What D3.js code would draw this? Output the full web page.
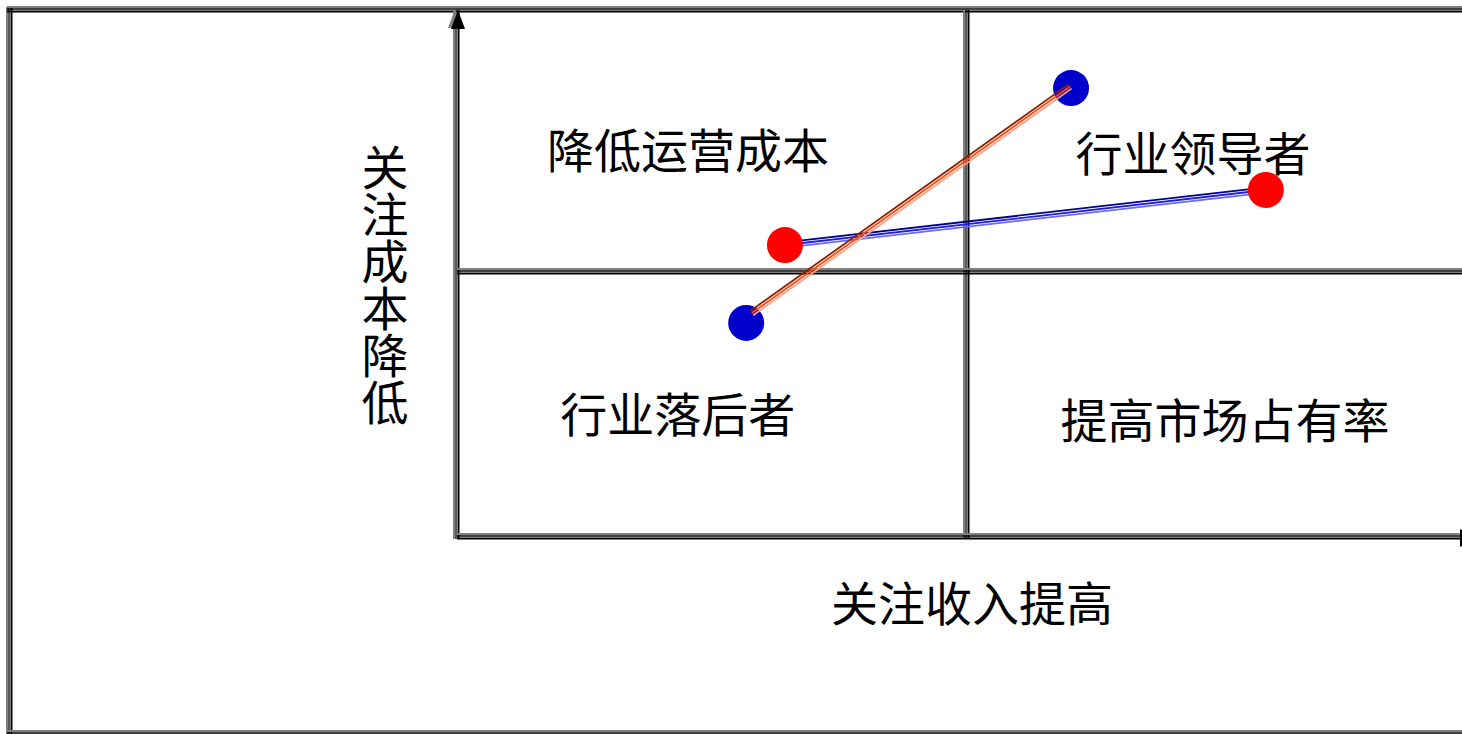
<!DOCTYPE html>
<html><head><meta charset="utf-8">
<script src="https://cdn.jsdelivr.net/npm/d3@7"></script>
<style>html,body{margin:0;padding:0;background:#fff;overflow:hidden}</style>
</head><body>
<svg id="c" width="1462" height="734"></svg>
<script>
// ---- data ----
const quadrantLabels = ["降低运营成本", "行业领导者", "行业落后者", "提高市场占有率"];
const quadrantLabelX = [0.453, 1.443, 0.433, 1.506];
const quadrantLabelY = [1.475, 1.462, 0.474, 0.451];
const xTitle = "关注收入提高";
const yTitle = "关注成本降低";
// series A: blue dots joined by an orange triple line
const seriesA_x = [0.567, 1.204];
const seriesA_y = [0.808, 1.702];
const lineA_x = [0.578, 1.202];
const lineA_y = [0.845, 1.708];
// series B: red dots joined by a blue triple line
const seriesB_x = [0.643, 1.586];
const seriesB_y = [1.103, 1.313];

const svg = d3.select("#c");
const x = d3.scaleLinear().domain([0, 1, 2]).range([457, 967, 1477]);
const y = d3.scaleLinear().domain([0, 1, 2]).range([537, 272, 10]);
const FONT = "'Noto Sans CJK SC', 'Noto Sans', sans-serif";
const FS = 47;

// double line with grey shadow
function dbl(x1, y1, x2, y2) {
  const vertical = x1 === x2;
  const specs = [[-3, "#808080", 2], [-1, "#000", 1.3], [1.5, "#000", 2]];
  specs.forEach(([o, c, w]) => {
    svg.append("line")
      .attr("x1", vertical ? x1 + o : x1).attr("x2", vertical ? x2 + o : x2)
      .attr("y1", vertical ? y1 : y1 + o).attr("y2", vertical ? y2 : y2 + o)
      .attr("stroke", c).attr("stroke-width", w);
  });
}

// outer frame
dbl(10, 7, 10, 760);
dbl(7, 10, 1500, 10);
dbl(7, 734, 1500, 734);

// quadrant grid / axes
dbl(x(0), y(2), x(0), y(0) + 2);
dbl(x(1), y(2), x(1), y(0) + 2);
dbl(x(0), y(1), 1500, y(1));
dbl(x(0), y(0), 1500, y(0));

// y axis arrow
const ax = x(0) + 1, ay = y(2);
svg.append("path").attr("d", `M${ax-3},${ay-1} L${ax-10},${ay+18} L${ax+4},${ay+18} Z`).attr("fill", "#808080");
svg.append("path").attr("d", `M${ax},${ay} L${ax-7},${ay+19} L${ax+7},${ay+19} Z`).attr("fill", "#000");
// x axis arrow (mostly off canvas)
const bx = 1460, by = y(0) + 1;
svg.append("path").attr("d", `M${bx},${by-9} L${bx+20},${by} L${bx},${by+9} Z`).attr("fill", "#000");

// quadrant labels
svg.selectAll("text.q").data(quadrantLabels).enter().append("text")
  .attr("class", "q")
  .attr("x", (d, i) => x(quadrantLabelX[i]))
  .attr("y", (d, i) => y(quadrantLabelY[i]))
  .attr("text-anchor", "middle").attr("dominant-baseline", "central")
  .attr("font-family", FONT).attr("font-size", FS).attr("fill", "#000")
  .text(d => d);

// axis titles
svg.append("text").attr("x", 972).attr("y", 600)
  .attr("text-anchor", "middle").attr("dominant-baseline", "central")
  .attr("font-family", FONT).attr("font-size", FS).text(xTitle);
svg.append("text")
  .attr("x", 385).attr("y", 144)
  .attr("font-family", FONT).attr("font-size", FS)
  .style("writing-mode", "vertical-rl").style("text-orientation", "upright")
  .text(yTitle);

// triple line helper
function triple(px1, py1, px2, py2, colors) {
  const dx = px2 - px1, dy = py2 - py1, L = Math.hypot(dx, dy);
  const nx = -dy / L, ny = dx / L;
  [-2.6, 0, 2.6].forEach((o, i) => {
    svg.append("line")
      .attr("x1", px1 + nx * o).attr("y1", py1 + ny * o)
      .attr("x2", px2 + nx * o).attr("y2", py2 + ny * o)
      .attr("stroke", colors[i]).attr("stroke-width", 1.8);
  });
}

// series B: blue line under red dots
triple(x(seriesB_x[0]), y(seriesB_y[0]), x(seriesB_x[1]), y(seriesB_y[1]), ["#000090", "#2020d0", "#6a6af0"]);
svg.selectAll("circle.b").data(seriesB_x).enter().append("circle")
  .attr("class", "b")
  .attr("cx", d => x(d)).attr("cy", (d, i) => y(seriesB_y[i]))
  .attr("r", 18).attr("fill", "#ff0000");

// series A: blue dots under orange line
svg.selectAll("circle.a").data(seriesA_x).enter().append("circle")
  .attr("class", "a")
  .attr("cx", d => x(d)).attr("cy", (d, i) => y(seriesA_y[i]))
  .attr("r", 18).attr("fill", "#0000cc");
triple(x(lineA_x[0]), y(lineA_y[0]), x(lineA_x[1]), y(lineA_y[1]), ["#8b2000", "#ff4a10", "#ffa080"]);
</script>
</body></html>
